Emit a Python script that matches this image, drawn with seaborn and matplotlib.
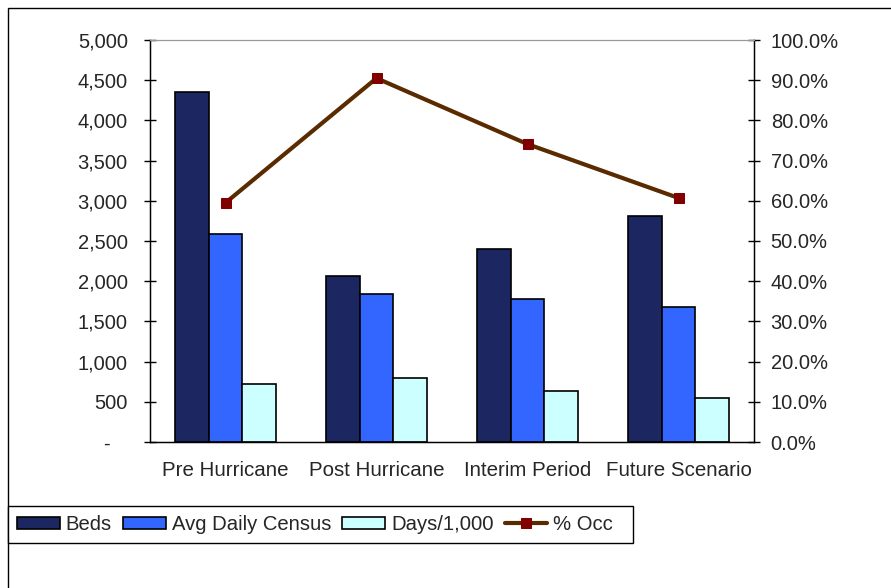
import numpy as np
import pandas as pd
import seaborn as sns
import matplotlib.pyplot as plt
from matplotlib.patches import Rectangle
from matplotlib.ticker import FuncFormatter, FixedLocator

# Data
categories = ["Pre Hurricane", "Post Hurricane", "Interim Period", "Future Scenario"]
beds = [4350, 2065, 2400, 2810]
avg_daily_census = [2590, 1840, 1780, 1680]
days_per_1000 = [720, 795, 635, 550]
pct_occ = [0.595, 0.905, 0.741, 0.607]

series_names = ["Beds", "Avg Daily Census", "Days/1,000"]
colors = {"Beds": "#1C2660", "Avg Daily Census": "#3366FF", "Days/1,000": "#CCFFFF"}

df = pd.DataFrame({
    "category": categories * 3,
    "series": [s for s in series_names for _ in categories],
    "value": beds + avg_daily_census + days_per_1000,
})

sns.set_style("white")
plt.rcParams["font.family"] = ["Liberation Sans", "DejaVu Sans"]
plt.rcParams["font.size"] = 14.5

fig = plt.figure(figsize=(8.91, 5.88), dpi=100)
ax = fig.add_axes([150 / 891, 1 - 442 / 588, (754 - 150) / 891, (442 - 40) / 588])

# Bars
sns.barplot(data=df, x="category", y="value", hue="series", order=categories,
            hue_order=series_names, palette=colors, width=0.67,
            edgecolor="black", linewidth=1.2, saturation=1, ax=ax)
ax.get_legend().remove()
ax.set_xlabel("")
ax.set_ylabel("")
ax.set_ylim(0, 5000)
ax.set_xlim(-0.5, len(categories) - 0.5)
ax.set_yticks(np.arange(0, 5001, 500))
ax.yaxis.set_major_formatter(FuncFormatter(lambda v, p: "-   " if v == 0 else f"{v:,.0f}"))

# category boundaries as major ticks, labels on minor ticks at the centres
ax.xaxis.set_major_locator(FixedLocator(np.arange(-0.5, len(categories), 1.0)))
ax.xaxis.set_minor_locator(FixedLocator(np.arange(len(categories))))
ax.set_xticklabels([""] * (len(categories) + 1))
ax.set_xticklabels(categories, minor=True)
ax.tick_params(axis="x", which="major", direction="out", length=6, width=1, color="black")
ax.tick_params(axis="x", which="minor", length=0, pad=14, labelsize=14.8)
ax.tick_params(axis="y", direction="inout", length=8, width=1, pad=12,
               labelsize=14.5, left=True, color="black")

for side in ["left", "right", "bottom"]:
    ax.spines[side].set_color("black")
    ax.spines[side].set_linewidth(1)
ax.spines["top"].set_color("#999999")

# % occupancy on the secondary axis
ax2 = ax.twinx()
sns.lineplot(x=np.arange(len(categories)), y=pct_occ, ax=ax2, color="#5A2A00",
             linewidth=3, marker="s", markersize=7.5, markerfacecolor="#800000",
             markeredgecolor="#800000", label="% Occ  ")
ax2.get_legend().remove()
ax2.set_ylim(0, 1)
ax2.set_xlim(-0.5, len(categories) - 0.5)
ax2.set_yticks(np.arange(0, 1.01, 0.1))
ax2.yaxis.set_major_formatter(FuncFormatter(lambda v, p: f"{v:.1%}"))
ax2.tick_params(axis="y", direction="inout", length=8, width=1, pad=8,
                labelsize=14.5, right=True, color="black")
ax2.set_ylabel("")
for side in ["left", "right", "bottom"]:
    ax2.spines[side].set_color("black")
ax2.spines["top"].set_color("#999999")

# Legend along the bottom
h1, l1 = ax.get_legend_handles_labels()
h2, l2 = ax2.get_legend_handles_labels()
leg = fig.legend(h1 + h2, l1 + l2, loc="upper left",
                 bbox_to_anchor=(8 / 891, 1 - 506 / 588), ncol=4, fontsize=14.6,
                 frameon=True, fancybox=False, edgecolor="black", framealpha=1,
                 handlelength=2.1, handleheight=0.6, handletextpad=0.3,
                 columnspacing=0.55, borderaxespad=0, borderpad=0.45)
leg.get_frame().set_linewidth(1)

# outer chart frame
fig.add_artist(Rectangle((8 / 891, -0.1), 1.2, 1.1 - 8 / 588, transform=fig.transFigure,
                         fill=False, edgecolor="black", linewidth=1))

plt.savefig("out.png", dpi=100)
